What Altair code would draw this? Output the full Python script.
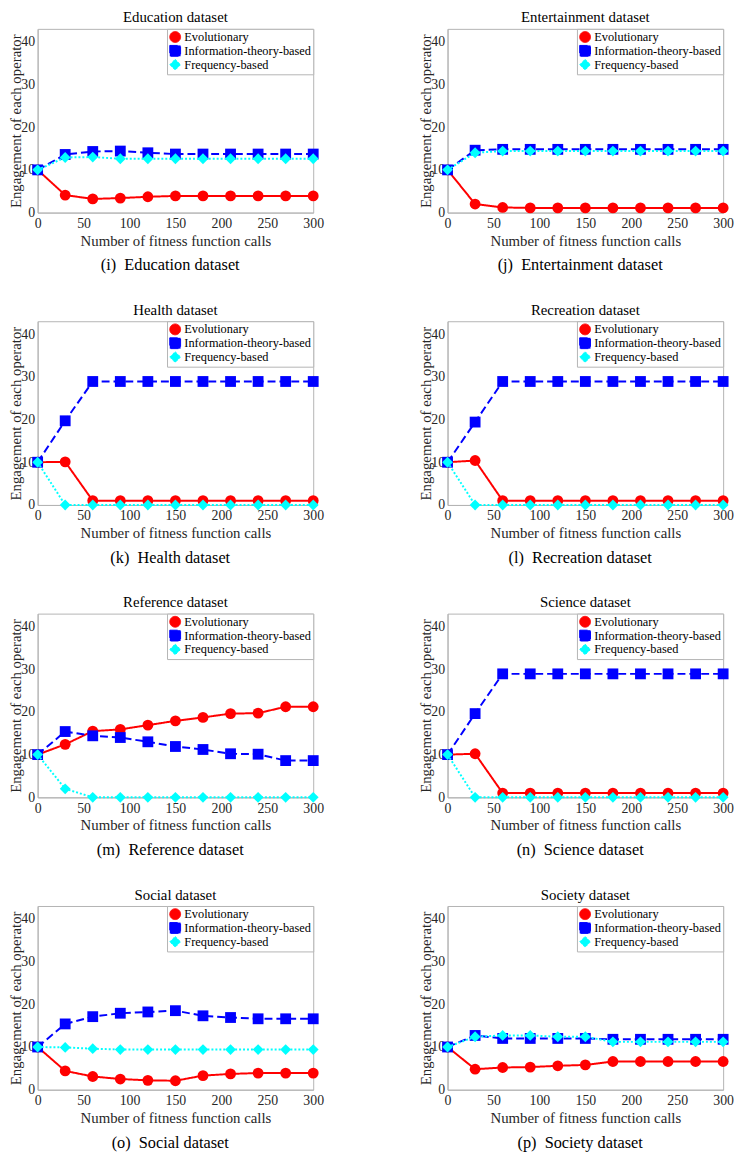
import altair as alt
import pandas as pd

x_calls = [0, 30, 60, 90, 120, 150, 180, 210, 240, 270, 300]
series_names = ["Evolutionary", "Information-theory-based", "Frequency-based"]
series_colors = ["#FF0000", "#0000FF", "#00FFFF"]
series_shapes = ["circle", "square", "diamond"]
series_dashes = [[1, 0], [8, 4], [2, 2]]

dataset_titles = ["Education dataset", "Entertainment dataset", "Health dataset", "Recreation dataset",
                  "Reference dataset", "Science dataset", "Social dataset", "Society dataset"]
caption_letters = ["(i)", "(j)", "(k)", "(l)", "(m)", "(n)", "(o)", "(p)"]

education_evo = [10, 4.1, 3.2, 3.4, 3.7, 3.9, 3.9, 3.9, 3.9, 3.9, 3.9]
education_info = [10, 13.6, 14.3, 14.4, 14.0, 13.7, 13.7, 13.7, 13.7, 13.7, 13.7]
education_freq = [10, 12.9, 13.0, 12.6, 12.6, 12.6, 12.6, 12.6, 12.6, 12.6, 12.6]

entertainment_evo = [10, 2.0, 1.2, 1.1, 1.1, 1.1, 1.1, 1.1, 1.1, 1.1, 1.1]
entertainment_info = [10, 14.6, 14.8, 14.8, 14.8, 14.8, 14.8, 14.8, 14.8, 14.8, 14.8]
entertainment_freq = [10, 14.0, 14.4, 14.4, 14.4, 14.4, 14.4, 14.4, 14.4, 14.4, 14.4]

health_evo = [10, 10.1, 1, 1, 1, 1, 1, 1, 1, 1, 1]
health_info = [10, 19.7, 28.9, 28.9, 28.9, 28.9, 28.9, 28.9, 28.9, 28.9, 28.9]
health_freq = [10, 0, 0, 0, 0, 0, 0, 0, 0, 0, 0]

recreation_evo = [10, 10.4, 1, 1, 1, 1, 1, 1, 1, 1, 1]
recreation_info = [10, 19.4, 28.9, 28.9, 28.9, 28.9, 28.9, 28.9, 28.9, 28.9, 28.9]
recreation_freq = [10, 0, 0, 0, 0, 0, 0, 0, 0, 0, 0]

reference_evo = [10, 12.4, 15.5, 15.9, 16.9, 17.9, 18.7, 19.6, 19.7, 21.2, 21.2]
reference_info = [10, 15.4, 14.4, 14.0, 13.0, 11.9, 11.2, 10.2, 10.1, 8.6, 8.6]
reference_freq = [10, 2.0, 0, 0, 0, 0, 0, 0, 0, 0, 0]

science_evo = [10, 10.2, 1, 1, 1, 1, 1, 1, 1, 1, 1]
science_info = [10, 19.6, 28.9, 28.9, 28.9, 28.9, 28.9, 28.9, 28.9, 28.9, 28.9]
science_freq = [10, 0, 0, 0, 0, 0, 0, 0, 0, 0, 0]

social_evo = [10, 4.4, 3.1, 2.5, 2.2, 2.1, 3.3, 3.7, 3.9, 3.9, 3.9]
social_info = [10, 15.4, 17.1, 17.9, 18.2, 18.5, 17.3, 16.9, 16.6, 16.6, 16.6]
social_freq = [10, 9.9, 9.6, 9.4, 9.4, 9.4, 9.4, 9.4, 9.4, 9.4, 9.4]

society_evo = [10, 4.8, 5.2, 5.3, 5.6, 5.8, 6.6, 6.6, 6.6, 6.6, 6.6]
society_info = [10, 12.7, 12.0, 12.0, 12.0, 12.0, 11.8, 11.8, 11.8, 11.8, 11.8]
society_freq = [10, 12.4, 12.7, 12.7, 12.4, 12.4, 11.2, 11.2, 11.2, 11.2, 11.2]

panel_series = [
    (education_evo, education_info, education_freq),
    (entertainment_evo, entertainment_info, entertainment_freq),
    (health_evo, health_info, health_freq),
    (recreation_evo, recreation_info, recreation_freq),
    (reference_evo, reference_info, reference_freq),
    (science_evo, science_info, science_freq),
    (social_evo, social_info, social_freq),
    (society_evo, society_info, society_freq),
]

FONT = "Liberation Serif"
PLOT_W = 279
PLOT_H = 186

color_scale = alt.Scale(domain=series_names, range=series_colors)
shape_scale = alt.Scale(domain=series_names, range=series_shapes)
dash_scale = alt.Scale(domain=series_names, range=series_dashes)

legend = alt.Legend(
    title=None, orient="top-right", offset=0, strokeColor="#b4b4b4", fillColor="white",
    padding=2, labelFont=FONT, labelFontSize=12.5, labelColor="black", symbolSize=120,
    rowPadding=-2, labelLimit=300, symbolStrokeWidth=1, labelOffset=3,
)

x_enc = alt.X("calls:Q", scale=alt.Scale(domain=[0, 300], nice=False),
              axis=alt.Axis(values=[0, 50, 100, 150, 200, 250, 300], labelFlush=False,
                            title="Number of fitness function calls", titleFontSize=15,
                            titlePadding=3, labelPadding=4))
y_enc = alt.Y("value:Q", scale=alt.Scale(domain=[0, 43], nice=False),
              axis=alt.Axis(values=[0, 10, 20, 30, 40], labelFlush=False,
                            title="Engagement of each operator", titleFontSize=15,
                            titlePadding=-3, labelPadding=3))


def make_panel(idx):
    evo, info, freq = panel_series[idx]
    rows = []
    for name, vals in zip(series_names, (evo, info, freq)):
        for xc, v in zip(x_calls, vals):
            rows.append({"calls": xc, "value": v, "series": name})
    df = pd.DataFrame(rows)
    base = alt.Chart(df)
    layers = []
    for name in series_names:
        line = base.transform_filter(alt.datum.series == name).mark_line(strokeWidth=2).encode(
            x=x_enc, y=y_enc,
            color=alt.Color("series:N", scale=color_scale, legend=legend, sort=series_names),
            strokeDash=alt.StrokeDash("series:N", scale=dash_scale, legend=None),
        )
        pts = base.transform_filter(alt.datum.series == name).mark_point(
            filled=True, size=120, opacity=1).encode(
            x=x_enc, y=y_enc,
            color=alt.Color("series:N", scale=color_scale, legend=legend, sort=series_names),
            shape=alt.Shape("series:N", scale=shape_scale, legend=legend, sort=series_names),
        )
        layers += [line, pts]
    panel = alt.layer(*layers).properties(
        width=PLOT_W, height=PLOT_H,
        title=alt.TitleParams(dataset_titles[idx], font=FONT, fontSize=15, fontWeight="normal",
                              color="black", offset=3, frame="group", anchor="middle"),
    )
    wrapped = alt.vconcat(panel, title=alt.TitleParams(
        caption_letters[idx] + "\u00a0\u00a0" + dataset_titles[idx], orient="bottom", anchor="middle",
        font=FONT, fontSize=16.5, fontWeight="normal", color="black", offset=9, dx=4)).resolve_scale(
        color="independent", shape="independent", strokeDash="independent").resolve_legend(
        color="independent", shape="independent")
    return wrapped


rows = []
for r in range(4):
    row = alt.hconcat(make_panel(2 * r), make_panel(2 * r + 1), spacing=95).resolve_scale(
        color="independent", shape="independent", strokeDash="independent").resolve_legend(
        color="independent", shape="independent")
    rows.append(row)

chart = alt.vconcat(*rows, spacing=29).resolve_scale(
    color="independent", shape="independent", strokeDash="independent").resolve_legend(
    color="independent", shape="independent").properties(
    padding={"top": -5, "left": 0, "right": 0, "bottom": 0}).configure_view(
    stroke="#b4b4b4", strokeWidth=1).configure_axis(
    grid=False, ticks=False, domainColor="#b4b4b4", labelFont=FONT, labelFontSize=14,
    labelColor="#262626", titleFont=FONT, titleFontWeight="normal",
    titleColor="#262626")

chart.save("out.html", embed_options={"renderer": "svg", "actions": False})
